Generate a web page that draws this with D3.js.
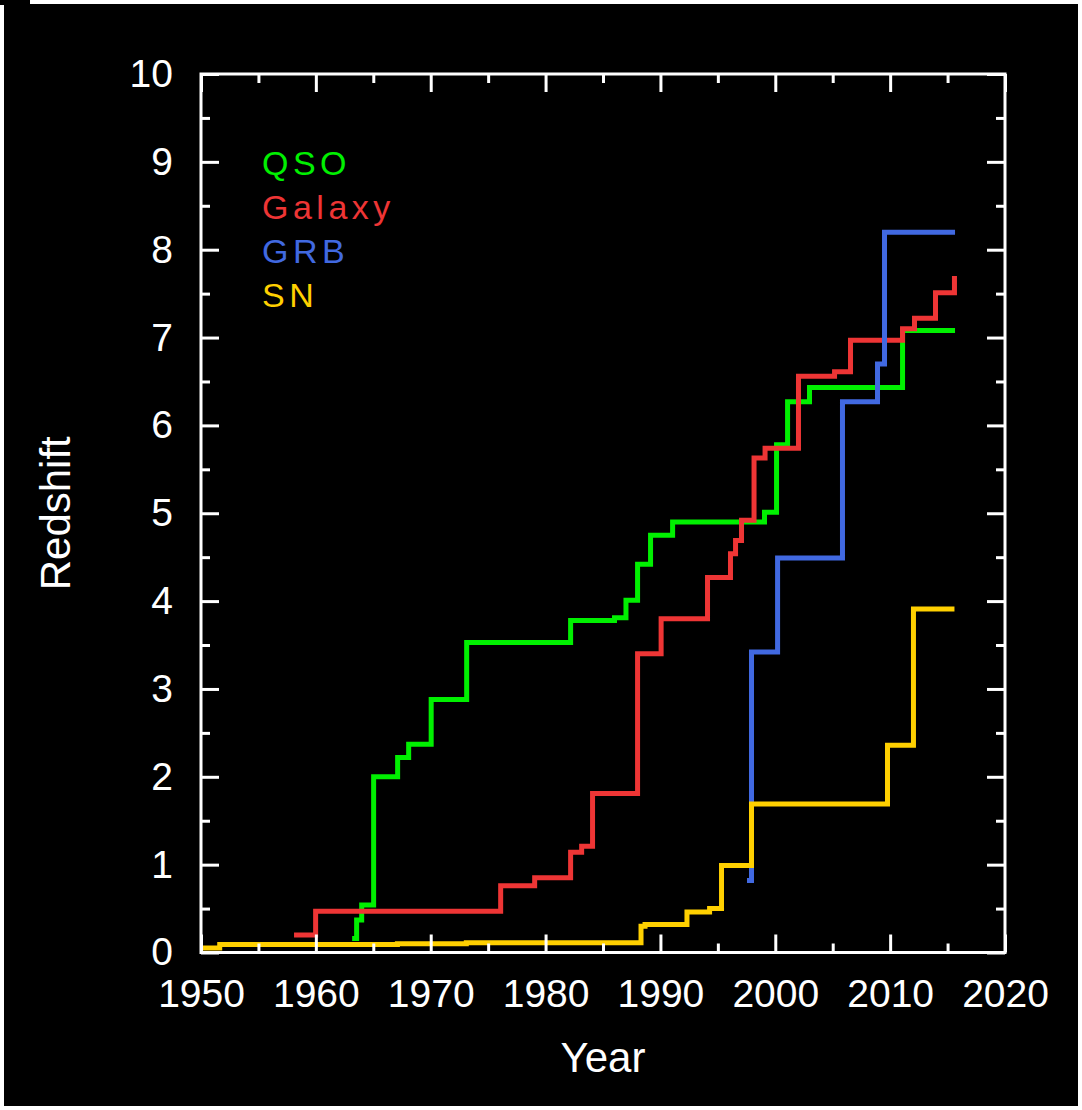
<!DOCTYPE html>
<html>
<head>
<meta charset="utf-8">
<script src="https://cdn.jsdelivr.net/npm/d3@7"></script>
<style>
  body { margin: 0; background: #fff; }
  svg { display: block; }
  text { font-family: "Liberation Sans", Arial, sans-serif; fill: #fff; }
</style>
</head>
<body>
<div id="chart"></div>
<script>
// record redshift per year (step data)
var qsoYear = [1963.16, 1963.55, 1963.99, 1965.03, 1967.12, 1968.08, 1970.04, 1973.13, 1982.18, 1986.0, 1987.0, 1988.01, 1989.14, 1991.06, 1999.06, 2000.11, 2001.07, 2002.98, 2011.08, 2015.65];
var qsoZ    = [0.16, 0.37, 0.54, 2.00, 2.22, 2.37, 2.88, 3.53, 3.78, 3.81, 4.01, 4.42, 4.75, 4.90, 5.01, 5.78, 6.27, 6.43, 7.08, 7.08];

var galYear = [1958.1, 1959.98, 1976.09, 1979.05, 1982.18, 1983.14, 1984.09, 1988.01, 1990.06, 1994.1, 1996.1, 1996.54, 1997.06, 1998.15, 1999.11, 2002.02, 2005.16, 2006.55, 2011.08, 2012.12, 2013.95, 2015.6];
var galZ    = [0.20, 0.47, 0.76, 0.85, 1.14, 1.21, 1.81, 3.40, 3.80, 4.27, 4.54, 4.69, 4.92, 5.63, 5.74, 6.56, 6.61, 6.97, 7.10, 7.22, 7.51, 7.70];

var grbYear = [1997.54, 1997.93, 2000.2, 2005.85, 2008.9, 2009.51, 2015.65];
var grbZ    = [0.82, 3.42, 4.49, 6.27, 6.70, 8.20, 8.20];

var snYear = [1950.0, 1951.63, 1967.1, 1973.1, 1988.31, 1988.66, 1992.31, 1994.28, 1995.32, 1997.93, 2009.77, 2012.03, 2015.6];
var snZ    = [0.05, 0.09, 0.10, 0.11, 0.30, 0.32, 0.46, 0.50, 0.99, 1.69, 2.36, 3.91, 3.91];

var seriesNames  = ["QSO", "Galaxy", "GRB", "SN"];
var seriesColors = ["#00f000", "#ee3535", "#4169e1", "#ffd000"];

var xMajor = [1950, 1960, 1970, 1980, 1990, 2000, 2010, 2020];
var xMinor = [1955, 1965, 1975, 1985, 1995, 2005, 2015];
var yMajor = [0, 1, 2, 3, 4, 5, 6, 7, 8, 9, 10];
var yMinor = [0.5, 1.5, 2.5, 3.5, 4.5, 5.5, 6.5, 7.5, 8.5, 9.5];

var W = 1082, H = 1110;
var plotL = 201, plotR = 1005, plotT = 74, plotB = 952.5;

var svg = d3.select("#chart").append("svg")
  .attr("width", W)
  .attr("height", H);

// black panel with thin white border
svg.append("rect").attr("x", 4).attr("y", 4).attr("width", 1074).attr("height", 1102).attr("fill", "#000");
svg.append("rect").attr("x", 0).attr("y", 0).attr("width", 30).attr("height", 5).attr("fill", "#000");

var x = d3.scaleLinear().domain([1950, 2020]).range([plotL, plotR]);
var y = d3.scaleLinear().domain([0, 10]).range([plotB, plotT]);

var line = d3.line()
  .x(function(d) { return x(d[0]); })
  .y(function(d) { return y(d[1]); })
  .curve(d3.curveStepAfter);

var series = [
  d3.zip(qsoYear, qsoZ),
  d3.zip(galYear, galZ),
  d3.zip(grbYear, grbZ),
  d3.zip(snYear, snZ)
];

svg.append("clipPath").attr("id", "clip")
  .append("rect").attr("x", plotL).attr("y", plotT).attr("width", plotR - plotL).attr("height", plotB - plotT);

svg.append("g").attr("clip-path", "url(#clip)")
  .selectAll("path")
  .data(series)
  .enter()
  .append("path")
  .attr("d", line)
  .attr("fill", "none")
  .attr("stroke", function(d, i) { return seriesColors[i]; })
  .attr("stroke-width", 5)
  .attr("stroke-linejoin", "miter")
  .attr("stroke-linecap", "butt");

// axes, ticks pointing inwards on all four sides
function styleAxis(g) {
  g.select(".domain").remove();
  g.selectAll(".tick line").attr("stroke", "#fff").attr("stroke-width", 3);
  g.selectAll("text").attr("fill", "#fff").style("font-size", "39px").style("font-family", "'Liberation Sans', Arial, sans-serif");
}

svg.append("g").attr("transform", "translate(0," + plotB + ")")
  .call(d3.axisBottom(x).tickValues(xMajor).tickSize(-18).tickPadding(27).tickFormat(d3.format("d")))
  .call(styleAxis);
svg.append("g").attr("transform", "translate(0," + plotB + ")")
  .call(d3.axisBottom(x).tickValues(xMinor).tickSize(-9).tickFormat(""))
  .call(styleAxis);
svg.append("g").attr("transform", "translate(0," + plotT + ")")
  .call(d3.axisTop(x).tickValues(xMajor).tickSize(-18).tickFormat(""))
  .call(styleAxis);
svg.append("g").attr("transform", "translate(0," + plotT + ")")
  .call(d3.axisTop(x).tickValues(xMinor).tickSize(-9).tickFormat(""))
  .call(styleAxis);

svg.append("g").attr("transform", "translate(" + plotL + ",0)")
  .call(d3.axisLeft(y).tickValues(yMajor).tickSize(-18).tickPadding(28).tickFormat(d3.format("d")))
  .call(styleAxis);
svg.append("g").attr("transform", "translate(" + plotL + ",0)")
  .call(d3.axisLeft(y).tickValues(yMinor).tickSize(-9).tickFormat(""))
  .call(styleAxis);
svg.append("g").attr("transform", "translate(" + plotR + ",0)")
  .call(d3.axisRight(y).tickValues(yMajor).tickSize(-18).tickFormat(""))
  .call(styleAxis);
svg.append("g").attr("transform", "translate(" + plotR + ",0)")
  .call(d3.axisRight(y).tickValues(yMinor).tickSize(-9).tickFormat(""))
  .call(styleAxis);

// frame
svg.append("rect")
  .attr("x", plotL).attr("y", plotT)
  .attr("width", plotR - plotL).attr("height", plotB - plotT)
  .attr("fill", "none").attr("stroke", "#fff").attr("stroke-width", 3);

// axis titles
svg.append("text")
  .attr("x", (plotL + plotR) / 2).attr("y", 1072)
  .attr("text-anchor", "middle")
  .style("font-size", "42px")
  .text("Year");

svg.append("text")
  .attr("transform", "translate(70," + (plotT + plotB) / 2 + ") rotate(-90)")
  .attr("text-anchor", "middle")
  .style("font-size", "42px")
  .text("Redshift");

// legend
svg.selectAll(".legend")
  .data(seriesNames)
  .enter()
  .append("text")
  .attr("class", "legend")
  .attr("x", 262)
  .attr("y", function(d, i) { return 175 + i * 44; })
  .style("font-size", "34px")
  .style("letter-spacing", "4.5px")
  .style("fill", function(d, i) { return seriesColors[i]; })
  .text(function(d) { return d; });
</script>
</body>
</html>
